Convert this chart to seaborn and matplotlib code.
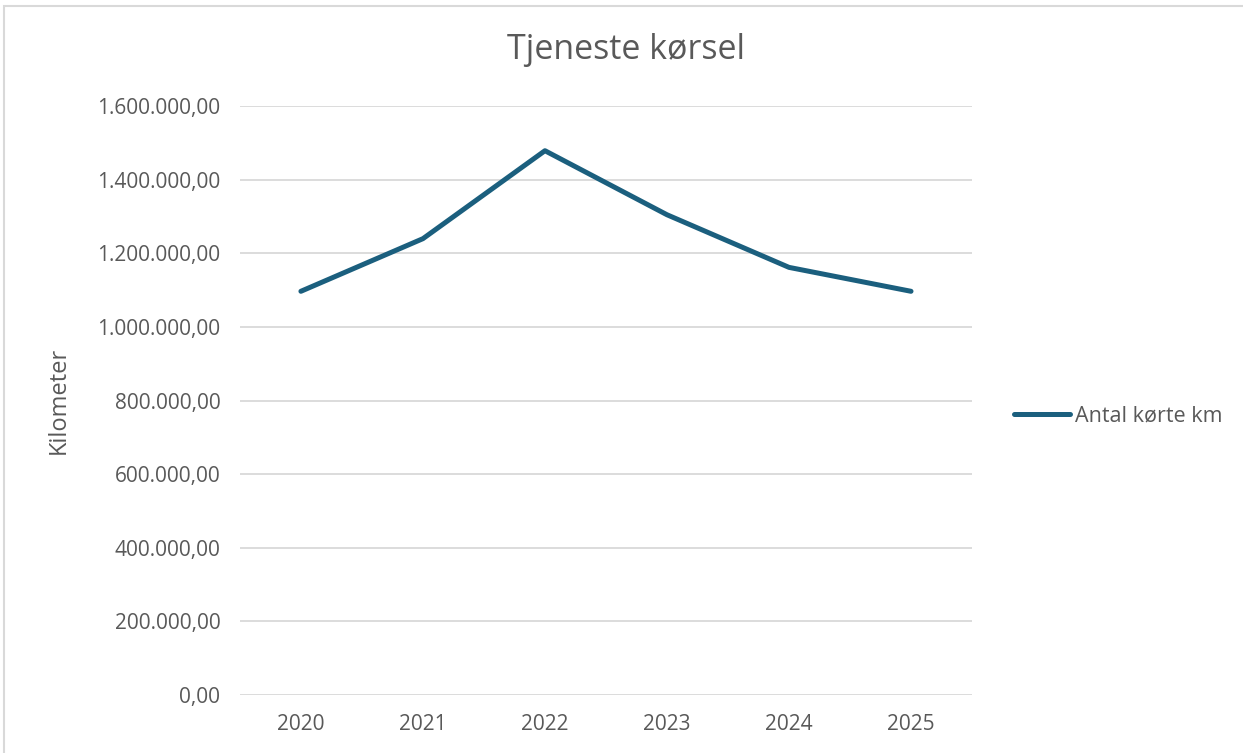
import pandas as pd
import numpy as np
import matplotlib.pyplot as plt
import seaborn as sns
from matplotlib.ticker import FuncFormatter

years = ['2020', '2021', '2022', '2023', '2024', '2025']
km = [1097000, 1240000, 1479000, 1305000, 1162000, 1097000]

df = pd.DataFrame({'År': years, 'Antal kørte km': km})

sns.set_theme(style='white')
plt.rcParams['font.family'] = ['Open Sans', 'DejaVu Sans']
grey = '#595959'

fig = plt.figure(figsize=(12.43, 7.53), dpi=100)
ax = fig.add_axes([0.193, 0.077, 0.589, 0.782])

sns.lineplot(data=df, x='År', y='Antal kørte km', color='#1B5F7E', linewidth=3.6,
             solid_capstyle='round', label='Antal kørte km', ax=ax, sort=False)

ax.set_ylim(0, 1600000)
ax.set_xlim(-0.5, 5.5)
ax.set_yticks(np.arange(0, 1600001, 200000))

def dk_fmt(v, pos):
    s = f'{v:,.2f}'
    return s.replace(',', 'X').replace('.', ',').replace('X', '.')

ax.yaxis.set_major_formatter(FuncFormatter(dk_fmt))
ax.grid(axis='y', color='#D9D9D9', linewidth=1.3)
ax.set_axisbelow(True)
for s in ax.spines.values():
    s.set_visible(False)
ax.tick_params(axis='both', length=0, labelsize=15, colors=grey, pad=14)
ax.tick_params(axis='x', pad=14)
ax.set_xlabel('')
ax.set_ylabel('Kilometer', fontsize=17, color=grey, labelpad=19)

# chart title is centred on the whole chart area, not the plot
fig.text(0.504, 0.934, 'Tjeneste kørsel', fontsize=24.5, color=grey, ha='center', va='center')

ax.get_legend().remove()
h, l = ax.get_legend_handles_labels()
fig.legend(h, l, loc='center left', bbox_to_anchor=(0.800, 0.447), frameon=False,
           fontsize=15.5, labelcolor=grey, handlelength=2.6, handletextpad=0.25)

# thin frame around the chart area
fig.patches.append(plt.Rectangle((0.003, -0.01), 1.2, 1.002, transform=fig.transFigure,
                                 fill=False, edgecolor='#D9D9D9', linewidth=1.5))

fig.savefig('out.png', dpi=100)
